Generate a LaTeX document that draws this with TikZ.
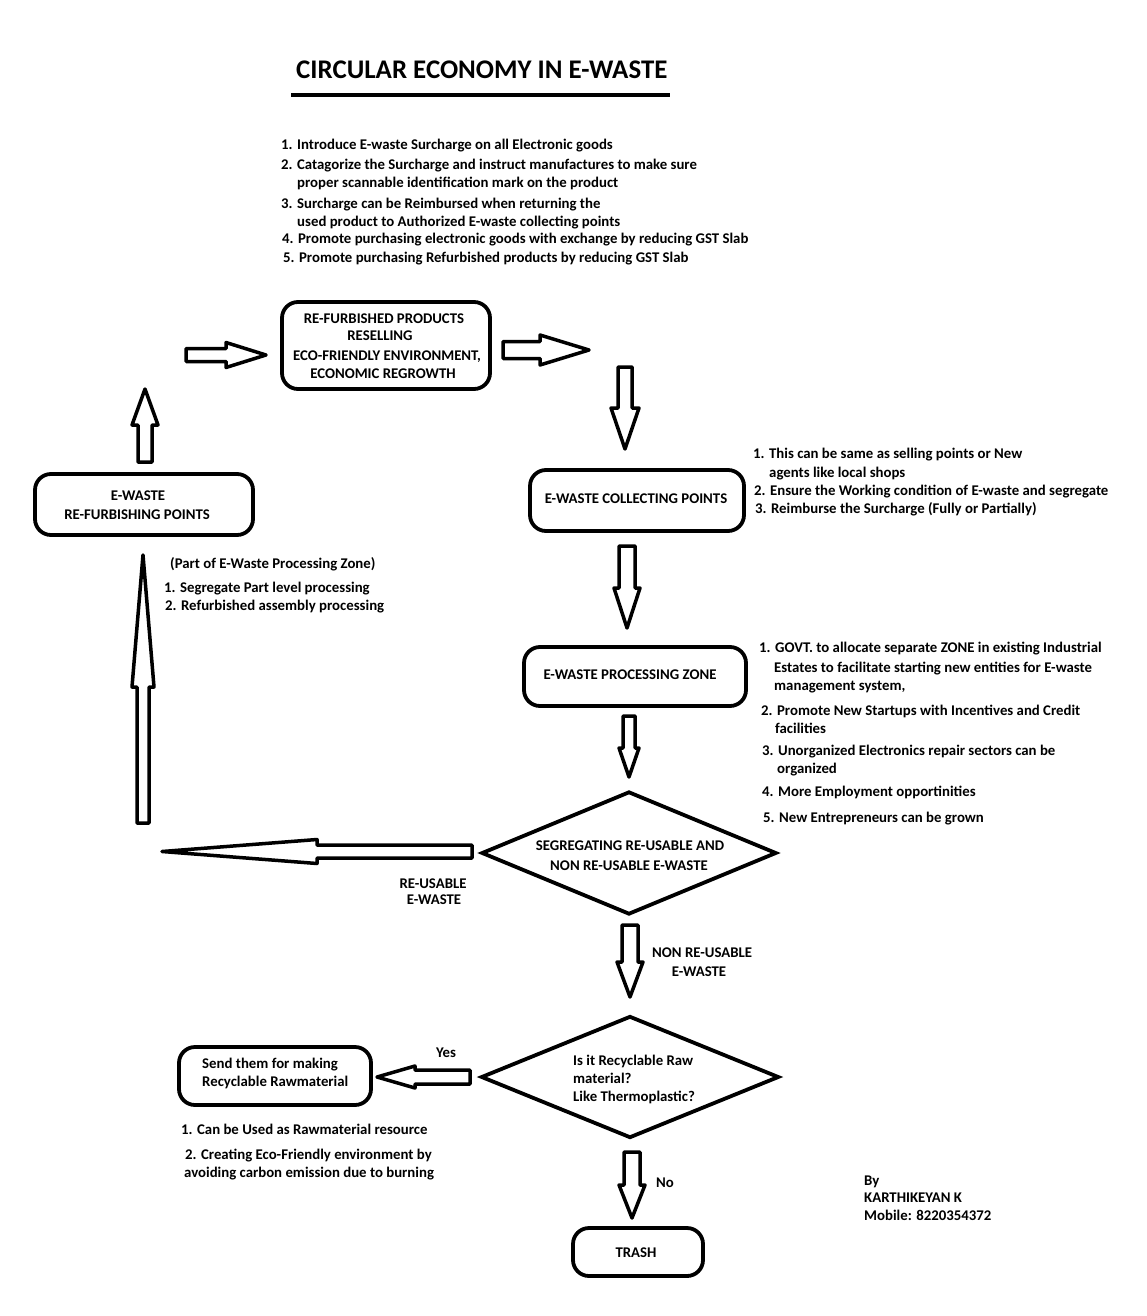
\documentclass[tikz,border=0pt]{standalone}
\usepackage{fontspec}
\setmainfont{Carlito}
\usetikzlibrary{shapes.geometric}
\newcommand\varr[6]{\draw[blk] ({#1-#5},#2) -- ({#1+#5},#2) -- ({#1+#5},#3) -- ({#1+#6},#3) -- (#1,#4) -- ({#1-#6},#3) -- ({#1-#5},#3) -- cycle;}
\newcommand\harr[6]{\draw[blk] (#2,{#1-#5}) -- (#2,{#1+#5}) -- (#3,{#1+#5}) -- (#3,{#1+#6}) -- (#4,#1) -- (#3,{#1-#6}) -- (#3,{#1-#5}) -- cycle;}
\begin{document}
\begin{tikzpicture}[x=1pt,y=-1pt,
  box/.style={draw,line width=3.8pt,rounded corners=16pt,inner sep=0pt},
  dia/.style={draw,line width=3.8pt,diamond,inner sep=0pt},
  blk/.style={draw,line width=3.5pt,line join=round},
  tl/.style={anchor=base west,inner sep=0pt,font=\fontsize{14.8}{17}\selectfont\bfseries},
  tc/.style={anchor=base,inner sep=0pt,font=\fontsize{14.8}{17}\selectfont\bfseries}]
\useasboundingbox (0,0) rectangle (1146,1316);
% title
\node[anchor=base west,inner sep=0pt,font=\fontsize{26.9}{30}\selectfont\bfseries] (title) at (296,79) {CIRCULAR ECONOMY IN E-WASTE};
\fill (291,93) rectangle (670,97.5);
% top list
\node[tl] (t1) at (281,150) {1. Introduce E-waste Surcharge on all Electronic goods};
\node[tl] (t2) at (281,170) {2. Catagorize the Surcharge and instruct manufactures to make sure};
\node[tl] (t2b) at (297,188) {proper scannable identification mark on the product};
\node[tl] (t3) at (281,208) {3. Surcharge can be Reimbursed when returning the};
\node[tl] (t3b) at (297,226) {used product to Authorized E-waste collecting points};
\node[tl] (t4) at (282,243) {4. Promote purchasing electronic goods with exchange by reducing GST Slab};
\node[tl] (t5) at (283,262) {5. Promote purchasing Refurbished products by reducing GST Slab};
% boxes
\node[box,minimum width=208pt,minimum height=87pt] (refurb) at (386,345.5) {};
\node[tc] at (384,323) {RE-FURBISHED PRODUCTS};
\node[tc] at (380,340) {RESELLING};
\node[tc] at (387,360) {ECO-FRIENDLY ENVIRONMENT,};
\node[tc] at (383,378) {ECONOMIC REGROWTH};
\node[box,minimum width=218pt,minimum height=61pt] (refpts) at (144,504.5) {};
\node[tc] at (138,500) {E-WASTE};
\node[tc] at (137,519) {RE-FURBISHING POINTS};
\node[box,minimum width=214pt,minimum height=61pt] (collect) at (637,500.5) {};
\node[tc] at (636,503) {E-WASTE COLLECTING POINTS};
\node[box,minimum width=222pt,minimum height=59pt] (proc) at (635,676.5) {};
\node[tc] at (630,679) {E-WASTE PROCESSING ZONE};
\node[dia,minimum width=295pt,minimum height=123pt] (d1) at (629,853) {};
\node[tc] at (630,850) {SEGREGATING RE-USABLE AND};
\node[tc] at (629,870) {NON RE-USABLE E-WASTE};
\node[dia,minimum width=298pt,minimum height=122pt] (d2) at (630,1077) {};
\node[tl] at (573,1065) {Is it Recyclable Raw};
\node[tl] at (573,1083) {material?};
\node[tl] at (573,1101) {Like Thermoplastic?};
\node[box,minimum width=192pt,minimum height=58pt] (send) at (275,1076) {};
\node[tl] at (202,1068) {Send them for making};
\node[tl] at (202,1086) {Recyclable Rawmaterial};
\node[box,minimum width=130pt,minimum height=48pt] (trash) at (638,1252) {};
\node[tc] at (636,1257) {TRASH};
% notes
\node[tl] at (753,458) {1. This can be same as selling points or New};
\node[tl] at (769,477) {agents like local shops};
\node[tl] at (754,495) {2. Ensure the Working condition of E-waste and segregate};
\node[tl] at (755,513) {3. Reimburse the Surcharge (Fully or Partially)};
\node[tl] at (170,568) {(Part of E-Waste Processing Zone)};
\node[tl] at (164,592) {1. Segregate Part level processing};
\node[tl] at (165,610) {2. Refurbished assembly processing};
\node[tl] at (759,652) {1. GOVT. to allocate separate ZONE in existing Industrial};
\node[tl] at (774,672) {Estates to facilitate starting new entities for E-waste};
\node[tl] at (774,690) {management system,};
\node[tl] at (761,715) {2. Promote New Startups with Incentives and Credit};
\node[tl] at (775,733) {facilities};
\node[tl] at (762,755) {3. Unorganized Electronics repair sectors can be};
\node[tl] at (777,773) {organized};
\node[tl] at (762,796) {4. More Employment opportinities};
\node[tl] at (763,822) {5. New Entrepreneurs can be grown};
\node[tc] at (433,888) {RE-USABLE};
\node[tc] at (434,904) {E-WASTE};
\node[tl] at (652,957) {NON RE-USABLE};
\node[tc] at (699,976) {E-WASTE};
\node[tc] at (446,1057) {Yes};
\node[tl] at (656,1187) {No};
\node[tl] at (181,1134) {1. Can be Used as Rawmaterial resource};
\node[tl] at (185,1159) {2. Creating Eco-Friendly environment by};
\node[tl] at (184,1177) {avoiding carbon emission due to burning};
\node[tl] at (864,1185) {By};
\node[tl] at (864,1202) {KARTHIKEYAN K};
\node[tl] at (864,1220) {Mobile: 8220354372};
% block arrows
\harr{355}{186}{226}{266}{6.5}{12.5}
\harr{350}{503}{540}{589}{8.5}{15}
\varr{625}{367}{408}{449}{7}{14}
\varr{627}{546}{588}{628}{8}{13}
\varr{629}{716}{748}{777}{6}{10}
\varr{630}{925}{962}{997}{8}{13}
\varr{632}{1152}{1185}{1218}{8}{13}
\harr{851.5}{472}{317}{162}{6.5}{12}
\varr{143}{823}{687}{555}{6}{11}
\varr{145}{462}{425}{389}{7}{13}
\harr{1077}{470}{415}{377}{7}{11}
\end{tikzpicture}
\end{document}
